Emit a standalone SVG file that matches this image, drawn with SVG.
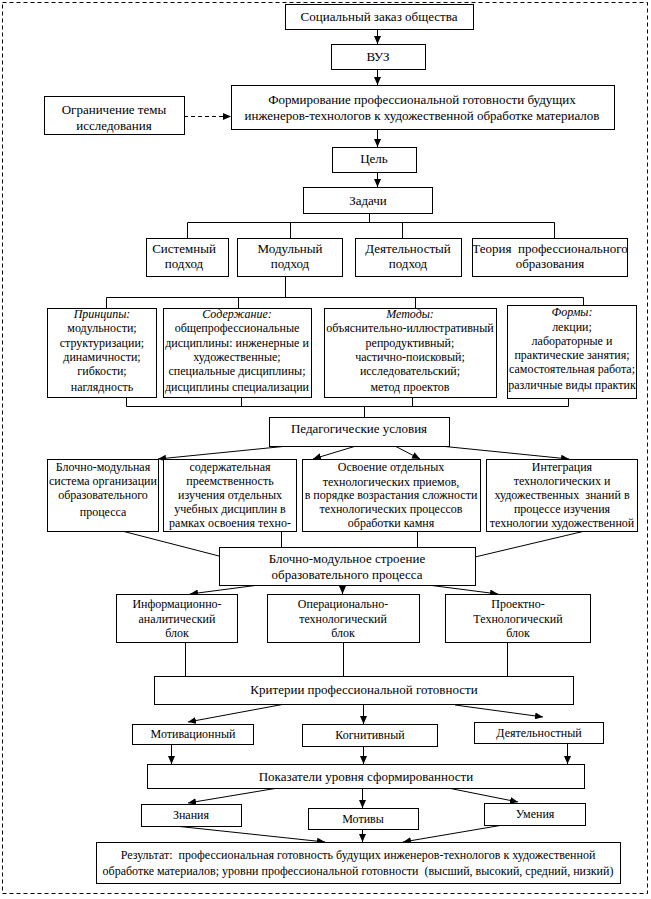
<svg xmlns="http://www.w3.org/2000/svg" width="651" height="899" viewBox="0 0 651 899" font-family="'Liberation Serif', 'Times New Roman', serif">
<style>
rect.b{fill:#fff;stroke:#000;stroke-width:1}
text{font-family:'Liberation Serif','Times New Roman',serif;font-size:13px;fill:#000;text-anchor:middle}
text.s{font-size:12px}
text.i{font-style:italic}
.c line,.c path{stroke:#000;stroke-width:1;fill:none}
.c .a{marker-end:url(#ah)}
.c .d{stroke-dasharray:4,3}
</style>
<defs>
<marker id="ah" markerUnits="userSpaceOnUse" markerWidth="8" markerHeight="7" refX="8" refY="3.5" orient="auto">
<path d="M0,0 L8,3.5 L0,7 z" fill="#000"/>
</marker>
</defs>
<rect x="2.5" y="2.5" width="645" height="891" fill="none" stroke="#000" stroke-dasharray="4,3"/>

<g class="c" id="connectors">
<line class="a" x1="377.5" y1="29" x2="377.5" y2="44"/>
<line class="a" x1="377.5" y1="69" x2="377.5" y2="85"/>
<line class="a d" x1="184" y1="116.5" x2="231" y2="116.5"/>
<line class="a" x1="377.5" y1="129" x2="377.5" y2="147"/>
<line class="a" x1="377.5" y1="172" x2="377.5" y2="187"/>
<path d="M369.5,213 V222.5 M187.5,238 V222.5 H554.5 V238 M290.5,222.5 V238 M402.5,222.5 V238"/>
<path d="M285.5,276 V297.5 M106.5,308 V297.5 H583.5 V305 M238.5,297.5 V308 M415.5,297.5 V308"/>
<path d="M126.5,397 V406.5 H568.5 V398 M241.5,397 V406.5 M412.5,397 V406.5 M364.5,406.5 V417"/>
<line class="a" x1="288" y1="446" x2="158" y2="459"/>
<line class="a" x1="356" y1="446" x2="313" y2="459"/>
<line class="a" x1="395" y1="446" x2="420" y2="459"/>
<line class="a" x1="440" y1="446" x2="569" y2="459"/>
<line x1="122" y1="531" x2="219" y2="556"/>
<line x1="281.5" y1="531" x2="281.5" y2="547"/>
<line x1="417.5" y1="531" x2="417.5" y2="547"/>
<line x1="585" y1="531" x2="475" y2="557"/>
<line class="a" x1="259" y1="585" x2="190" y2="594"/>
<line class="a" x1="342.5" y1="585" x2="342.5" y2="594"/>
<line class="a" x1="428" y1="585" x2="498" y2="594"/>
<line x1="185.5" y1="642" x2="185.5" y2="676"/>
<line x1="343.5" y1="642" x2="343.5" y2="676"/>
<line x1="507.5" y1="642" x2="507.5" y2="676"/>
<line class="a" x1="285" y1="704" x2="188" y2="722"/>
<line class="a" x1="363.5" y1="704" x2="363.5" y2="724"/>
<line class="a" x1="455" y1="705" x2="543" y2="717"/>
<line class="a" x1="171.5" y1="744" x2="171.5" y2="764"/>
<line class="a" x1="363.5" y1="746" x2="363.5" y2="764"/>
<line class="a" x1="567.5" y1="743" x2="567.5" y2="764"/>
<line class="a" x1="278" y1="788" x2="188" y2="803"/>
<line class="a" x1="362.5" y1="788" x2="362.5" y2="808"/>
<line class="a" x1="448" y1="788" x2="518" y2="802"/>
<line class="a" x1="175" y1="826" x2="325" y2="842"/>
<line class="a" x1="362.5" y1="829" x2="362.5" y2="842"/>
<line class="a" x1="503" y1="825" x2="403" y2="842"/>
</g>

<g id="social"><rect class="b" x="285.5" y="4.5" width="188" height="25"/><text x="379" y="21">Социальный заказ общества</text></g>
<g id="vuz"><rect class="b" x="331.5" y="44.5" width="94" height="25"/><text x="378" y="61">ВУЗ</text></g>
<g id="formation"><rect class="b" x="231.5" y="85.5" width="383" height="44"/><text x="422" y="104">Формирование профессиональной готовности будущих</text><text x="422" y="120">инженеров-технологов к художественной обработке материалов</text></g>
<g id="limit"><rect class="b" x="44.5" y="96.5" width="140" height="38"/><text x="114" y="114">Ограничение темы</text><text x="114" y="130">исследования</text></g>
<g id="goal"><rect class="b" x="332.5" y="147.5" width="84" height="25"/><text x="374" y="163">Цель</text></g>
<g id="tasks"><rect class="b" x="303.5" y="187.5" width="129" height="26"/><text x="368" y="205">Задачи</text></g>

<g id="system"><rect class="b" x="146.5" y="238.5" width="82" height="38"/><text x="184" y="253">Системный</text><text x="184" y="268">подход</text></g>
<g id="modular"><rect class="b" x="237.5" y="238.5" width="105" height="38"/><text x="290" y="253">Модульный</text><text x="290" y="268">подход</text></g>
<g id="activity"><rect class="b" x="355.5" y="238.5" width="106" height="38"/><text x="408" y="253">Деятельностый</text><text x="408" y="268">подход</text></g>
<g id="theory"><rect class="b" x="472.5" y="238.5" width="155" height="38"/><text x="550" y="253" xml:space="preserve">Теория  профессионального</text><text x="550" y="268">образования</text></g>

<g id="principles"><rect class="b" x="47.5" y="308.5" width="109" height="89"/>
<text class="s i" x="102" y="318">Принципы:</text><text class="s" x="102" y="332">модульности;</text><text class="s" x="102" y="347">структуризации;</text><text class="s" x="102" y="361">динамичности;</text><text class="s" x="102" y="375">гибкости;</text><text class="s" x="102" y="391">наглядность</text></g>
<g id="content"><rect class="b" x="163.5" y="308.5" width="148" height="89"/>
<text class="s i" x="237" y="318">Содержание:</text><text class="s" x="237" y="332">общепрофессиональные</text><text class="s" x="237" y="347">дисциплины: инженерные и</text><text class="s" x="237" y="361">художественные;</text><text class="s" x="237" y="375">специальные дисциплины;</text><text class="s" x="237" y="391">дисциплины специализации</text></g>
<g id="methods"><rect class="b" x="324.5" y="308.5" width="172" height="89"/>
<text class="s i" x="410" y="318">Методы:</text><text class="s" x="410" y="332">объяснительно-иллюстративный</text><text class="s" x="410" y="347">репродуктивный;</text><text class="s" x="410" y="361">частично-поисковый;</text><text class="s" x="410" y="375">исследовательский;</text><text class="s" x="410" y="391">метод проектов</text></g>
<g id="forms"><rect class="b" x="507.5" y="305.5" width="129" height="93"/>
<text class="s i" x="572" y="316">Формы:</text><text class="s" x="572" y="331">лекции;</text><text class="s" x="572" y="345">лабораторные и</text><text class="s" x="572" y="359">практические занятия;</text><text class="s" x="572" y="373">самостоятельная работа;</text><text class="s" x="572" y="389">различные виды практик</text></g>

<g id="pedconditions"><rect class="b" x="269.5" y="417.5" width="180" height="29"/><text x="359" y="433">Педагогические условия</text></g>

<g id="blocksystem"><rect class="b" x="47.5" y="459.5" width="111" height="72"/>
<text class="s" x="103" y="471">Блочно-модульная</text><text class="s" x="103" y="485">система организации</text><text class="s" x="103" y="499">образовательного</text><text class="s" x="103" y="516">процесса</text></g>
<g id="continuity"><rect class="b" x="163.5" y="459.5" width="133" height="72"/>
<text class="s" x="230" y="471">содержательная</text><text class="s" x="230" y="485">преемственность</text><text class="s" x="230" y="499">изучения отдельных</text><text class="s" x="230" y="513">учебных дисциплин в</text><text class="s" x="230" y="527">рамках освоения техно-</text></g>
<g id="mastering"><rect class="b" x="302.5" y="459.5" width="178" height="72"/>
<text class="s" x="391" y="471">Освоение отдельных</text><text class="s" x="391" y="486">технологических приемов,</text><text class="s" x="391" y="499">в порядке возрастания сложности</text><text class="s" x="391" y="513">технологических процессов</text><text class="s" x="391" y="527">обработки камня</text></g>
<g id="integration"><rect class="b" x="486.5" y="459.5" width="151" height="72"/>
<text class="s" x="562" y="471">Интеграция</text><text class="s" x="562" y="485">технологических и</text><text class="s" x="562" y="499" xml:space="preserve">художественных  знаний в</text><text class="s" x="562" y="513">процессе изучения</text><text class="s" x="562" y="527">технологии художественной</text></g>

<g id="structure"><rect class="b" x="219.5" y="547.5" width="256" height="38"/><text x="347" y="563">Блочно-модульное строение</text><text x="347" y="579">образовательного процесса</text></g>

<g id="infoblock"><rect class="b" x="116.5" y="594.5" width="121" height="48"/><text class="s" x="177" y="608">Информационно-</text><text class="s" x="177" y="623">аналитический</text><text class="s" x="177" y="637">блок</text></g>
<g id="operblock"><rect class="b" x="267.5" y="594.5" width="152" height="48"/><text class="s" x="343" y="608">Операционально-</text><text class="s" x="343" y="623">технологический</text><text class="s" x="343" y="637">блок</text></g>
<g id="projblock"><rect class="b" x="445.5" y="594.5" width="145" height="48"/><text class="s" x="518" y="608">Проектно-</text><text class="s" x="518" y="623">Технологический</text><text class="s" x="518" y="637">блок</text></g>

<g id="criteria"><rect class="b" x="154.5" y="676.5" width="419" height="28"/><text x="364" y="694">Критерии профессиональной готовности</text></g>

<g id="motivational"><rect class="b" x="132.5" y="724.5" width="121" height="20"/><text class="s" x="193" y="738">Мотивационный</text></g>
<g id="cognitive"><rect class="b" x="302.5" y="724.5" width="135" height="22"/><text class="s" x="370" y="739">Когнитивный</text></g>
<g id="activitycrit"><rect class="b" x="474.5" y="722.5" width="129" height="21"/><text class="s" x="539" y="737">Деятельностный</text></g>

<g id="indicators"><rect class="b" x="147.5" y="764.5" width="437" height="24"/><text x="366" y="781">Показатели уровня сформированности</text></g>

<g id="knowledge"><rect class="b" x="141.5" y="804.5" width="100" height="22"/><text class="s" x="191" y="819">Знания</text></g>
<g id="motives"><rect class="b" x="308.5" y="808.5" width="110" height="21"/><text class="s" x="363" y="823">Мотивы</text></g>
<g id="skills"><rect class="b" x="484.5" y="803.5" width="101" height="22"/><text class="s" x="535" y="818">Умения</text></g>

<g id="result"><rect class="b" x="96.5" y="842.5" width="524" height="41"/><text class="s" x="358" y="859" xml:space="preserve">Результат:  профессиональная готовность будущих инженеров-технологов к художественной</text><text class="s" x="358" y="875" xml:space="preserve">обработке материалов; уровни профессиональной готовности  (высший, высокий, средний, низкий)</text></g>
</svg>
